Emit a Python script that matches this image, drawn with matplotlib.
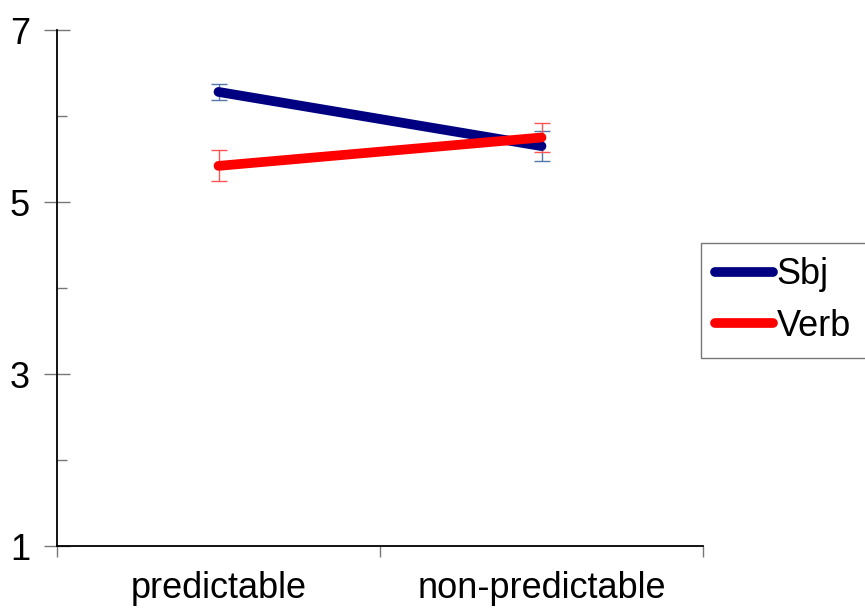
import matplotlib
matplotlib.use("Agg")
import matplotlib.pyplot as plt
from matplotlib.ticker import FixedLocator

categories = ["predictable", "non-predictable"]
series_names = ["Sbj", "Verb"]
sbj_values = [6.28, 5.65]
sbj_errors = [0.09, 0.17]
verb_values = [5.42, 5.75]
verb_errors = [0.18, 0.17]
y_ticks = [1, 3, 5, 7]
y_minor = [2, 4, 6]

plt.rcParams['font.family'] = ['Liberation Sans', 'DejaVu Sans']

fig = plt.figure(figsize=(8.65, 6.08), dpi=100)
ax = fig.add_axes([57/865, 62/608, 646/865, 516/608])

x = [0.25, 0.75]
ax.errorbar(x, sbj_values, yerr=sbj_errors, fmt='none', ecolor='#5577aa',
            elinewidth=1, capsize=6, capthick=1, zorder=2)
ax.errorbar(x, verb_values, yerr=verb_errors, fmt='none', ecolor='#ff5555',
            elinewidth=1, capsize=6, capthick=1, zorder=2)
l1, = ax.plot(x, sbj_values, color='#000080', lw=7, solid_capstyle='round',
              label=series_names[0], zorder=3)
l2, = ax.plot(x, verb_values, color='#ff0000', lw=7, solid_capstyle='round',
              label=series_names[1], zorder=4)

ax.set_xlim(0, 1)
ax.set_ylim(1, 7)
ax.set_yticks(y_ticks)
ax.yaxis.set_minor_locator(FixedLocator(y_minor))
ax.set_xticks([0, 0.5, 1])
ax.set_xticklabels([])
ax.set_xticks([0.25, 0.75], minor=True)
ax.set_xticklabels(categories, minor=True)
ax.tick_params(axis='x', which='minor', length=0, labelsize=26, pad=18)
ax.tick_params(axis='x', which='major', length=8, width=1, direction='out', color='#777777')
ax.tick_params(axis='y', which='major', length=19, width=1, direction='inout',
               labelsize=26, pad=10, color='#777777')
ax.tick_params(axis='y', which='minor', length=7, width=1, direction='in', color='#777777')

for s in ['top', 'right']:
    ax.spines[s].set_visible(False)
for s in ['left', 'bottom']:
    ax.spines[s].set_linewidth(1.3)
    ax.spines[s].set_color('black')

leg = fig.legend(handles=[l1, l2], loc='upper left', bbox_to_anchor=(701/865, 1 - 243/608),
                 bbox_transform=fig.transFigure, borderaxespad=0, fontsize=26,
                 frameon=True, fancybox=False, edgecolor='#555555', handlelength=1.6,
                 handletextpad=0.1, borderpad=0.4, labelspacing=0.45)
leg.get_frame().set_linewidth(1)

fig.savefig("out.png", dpi=100)
